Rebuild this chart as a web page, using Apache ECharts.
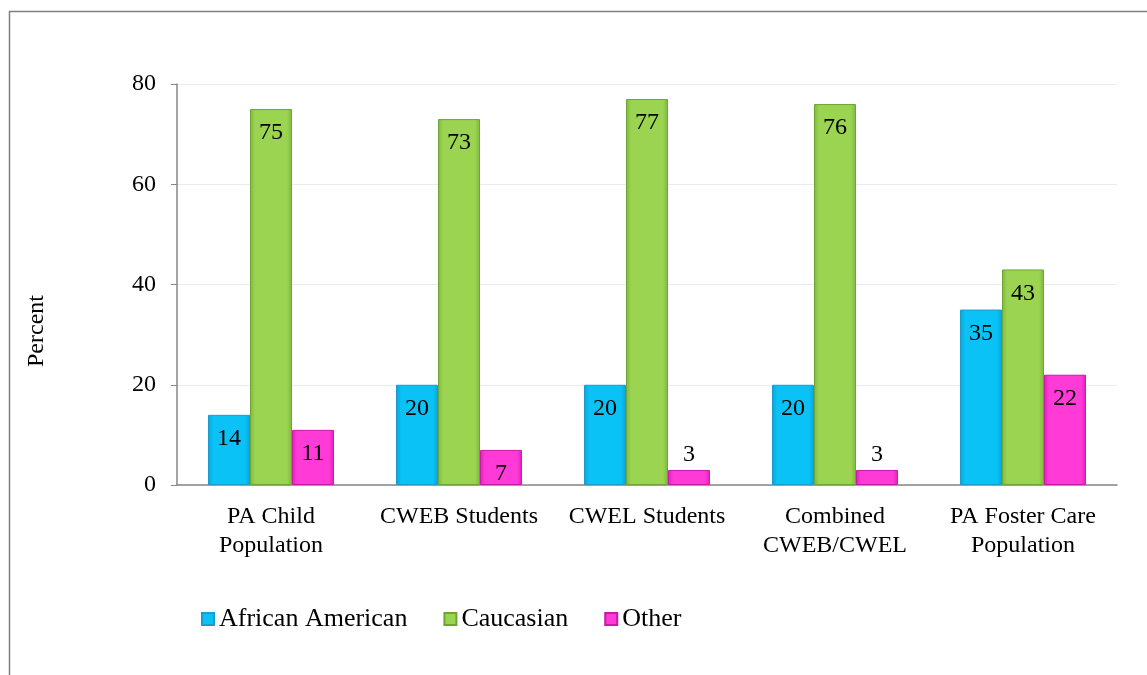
<!DOCTYPE html>
<html>
<head>
<meta charset="utf-8">
<script src="https://cdn.jsdelivr.net/npm/echarts@6/dist/echarts.min.js"></script>
<style>
html,body{margin:0;padding:0;background:#fff;}
#chart{width:1147px;height:675px;}
</style>
</head>
<body>
<div id="chart"></div>
<script>
const categories = ['PA Child\nPopulation', 'CWEB Students', 'CWEL Students', 'Combined\nCWEB/CWEL', 'PA Foster Care\nPopulation'];
const africanAmerican = [14, 20, 20, 20, 35];
const caucasian = [75, 73, 77, 76, 43];
const other = [11, 7, 3, 3, 22];
const yTicks = [0, 20, 40, 60, 80];
const yTitle = 'Percent';

const FONT = '"Liberation Serif", "Times New Roman", serif';

function grad(edge, mid) {
  return new echarts.graphic.LinearGradient(0, 0, 1, 0, [
    {offset: 0, color: edge},
    {offset: 0.12, color: mid},
    {offset: 0.88, color: mid},
    {offset: 1, color: edge}
  ]);
}

function labelFor(values) {
  return values.map(v => ({
    value: v,
    label: v < 5 ? {position: 'top', distance: 3} : {position: 'insideTop', distance: 12}
  }));
}

const chart = echarts.init(document.getElementById('chart'));
const baseLabel = {show: true, color: '#000', fontFamily: FONT, fontSize: 24};

chart.setOption({
  animation: false,
  graphic: [{
    type: 'rect', silent: true,
    shape: {x: 9.5, y: 11.5, width: 1200, height: 700},
    style: {fill: 'none', stroke: '#808080', lineWidth: 1.5}
  }, {
    type: 'text', silent: true,
    x: 37, y: 331, rotation: Math.PI / 2,
    style: {text: yTitle, font: '24px ' + FONT, fill: '#000', align: 'center', verticalAlign: 'middle'}
  }],
  grid: {left: 177, right: 30, top: 84, bottom: 190},
  legend: {
    left: 196, top: 601,
    itemWidth: 12, itemHeight: 12, itemGap: 36,
    icon: 'rect',
    textStyle: {fontFamily: FONT, fontSize: 26, color: '#000', padding: [0, 0, 0, 0]},
    data: ['African American', 'Caucasian', 'Other']
  },
  xAxis: {
    type: 'category',
    data: categories,
    axisLine: {lineStyle: {color: '#868686', width: 1.5}},
    axisTick: {show: false},
    axisLabel: {fontFamily: FONT, fontSize: 24, color: '#000', margin: 17, lineHeight: 29, interval: 0}
  },
  yAxis: {
    type: 'value', min: 0, max: 80, interval: 20,
    axisLine: {show: true, lineStyle: {color: '#868686', width: 1.5}},
    axisTick: {show: true, length: 6, lineStyle: {color: '#868686'}},
    axisLabel: {fontFamily: FONT, fontSize: 24, color: '#000', margin: 21,
      formatter: v => yTicks.includes(v) ? String(v) : ''},
    splitLine: {lineStyle: {color: '#ebebeb', width: 1}}
  },
  series: [
    {
      name: 'African American', type: 'bar', barGap: '0%', barCategoryGap: '33%',
      data: labelFor(africanAmerican),
      itemStyle: {color: grad('#0aa3d8', '#0ac2f5'), borderColor: '#1a9ccc', borderWidth: 1},
      label: baseLabel
    },
    {
      name: 'Caucasian', type: 'bar',
      data: labelFor(caucasian),
      itemStyle: {color: grad('#7db83e', '#9ad451'), borderColor: '#6fa435', borderWidth: 1},
      label: baseLabel
    },
    {
      name: 'Other', type: 'bar',
      data: labelFor(other),
      itemStyle: {color: grad('#e01fc0', '#ff3ad6'), borderColor: '#c81aa8', borderWidth: 1},
      label: baseLabel
    }
  ]
});
</script>
</body>
</html>
